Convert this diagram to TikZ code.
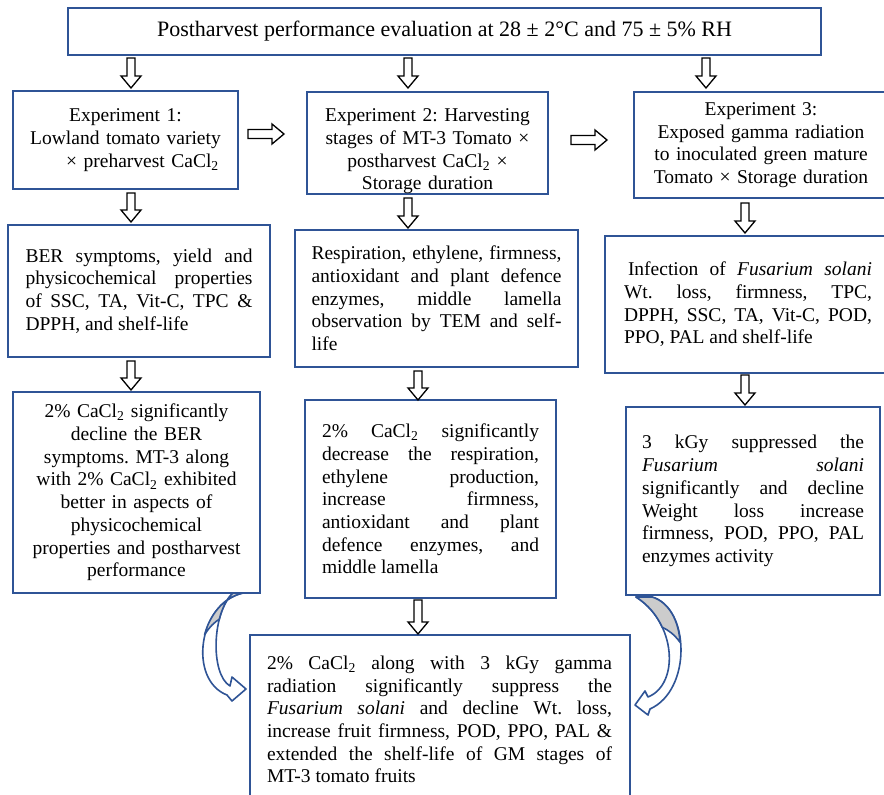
\documentclass[tikz,border=0pt]{standalone}
\usepackage{fontspec}
\setmainfont{Liberation Serif}
\frenchspacing
\definecolor{boxblue}{HTML}{2F5496}
\tikzset{
  box/.style={draw=boxblue, line width=2pt, fill=white, inner sep=0pt,
    font=\fontsize{19.5}{22.7}\selectfont, align=center,
    execute at begin node={\tolerance=10000\hbadness=10000}},
  jbox/.style={box, align=justify},
  blockarrow/.style={draw=black, fill=white, line width=1.3pt, line join=miter},
  pics/darr/.style={code={\draw[blockarrow] (-4,0) -- (4,0) -- (4,#1-12) -- (10,#1-12) -- (0,#1) -- (-10,#1-12) -- (-4,#1-12) -- cycle;}},
  pics/rarr/.style={code={\draw[blockarrow] (0,-4.5) -- (24,-4.5) -- (24,-10) -- (36,0) -- (24,10) -- (24,4.5) -- (0,4.5) -- cycle;}},
  curvearr/.style={draw=boxblue, line width=1.6pt, fill=white, line join=round},
  backface/.style={draw=boxblue, line width=1.6pt, fill=gray!40, line join=round}
}
\begin{document}
\begin{tikzpicture}[x=1pt,y=-1pt]
\useasboundingbox (0,0) rectangle (884,795);
\clip (0,0) rectangle (884,795);
\fill[white] (0,0) rectangle (884,795);

\node[box, minimum width=753, minimum height=47, font=\fontsize{22}{24}\selectfont] (eval) at (444.5,31.5)
  {Postharvest performance evaluation at 28 ± 2°C and 75 ± 5\% RH};

\node[box, minimum width=225, minimum height=98, text width=215] (exp1) at (125.5,140)
  {Experiment 1:\\ Lowland tomato variety\\ \hspace*{34pt}× preharvest CaCl\textsubscript{2}};
\node[box, minimum width=241, minimum height=102, text width=232] (exp2) at (427.5,143)
  {\rule{0pt}{30pt}Experiment 2: Harvesting\\ stages of MT-3 Tomato ×\\ postharvest CaCl\textsubscript{2} ×\\ Storage duration};
\node[box, minimum width=254, minimum height=106, text width=240] (exp3) at (761,145)
  {Experiment 3:\\ Exposed gamma radiation\\ to inoculated green mature\\ Tomato × Storage duration};

\node[jbox, minimum width=262, minimum height=132, text width=227] (ber) at (139,291)
  {BER symptoms, yield and\linebreak physicochemical properties\linebreak of SSC, TA, Vit-C, TPC \&\linebreak DPPH, and shelf-life};
\node[jbox, minimum width=283, minimum height=137, text width=250] (resp) at (436.5,298.5)
  {Respiration, ethylene, firmness,\linebreak antioxidant and plant defence\linebreak enzymes, middle lamella\linebreak observation by TEM and self-\linebreak life};
\node[jbox, minimum width=286, minimum height=137, text width=248] (infect) at (748,304.5)
  {\hspace*{4pt}Infection of \emph{Fusarium solani}\linebreak Wt. loss, firmness, TPC,\linebreak DPPH, SSC, TA, Vit-C, POD,\linebreak PPO, PAL and shelf-life};

\node[box, minimum width=247, minimum height=201, text width=235] (res1) at (136.5,492.5)
  {2\% CaCl\textsubscript{2} significantly\\ decline the BER\\ symptoms. MT-3 along\\ with 2\% CaCl\textsubscript{2} exhibited\\ better in aspects of\\ physicochemical\\ properties and postharvest\\ performance};
\node[jbox, minimum width=251, minimum height=198, text width=217] (res2) at (430.5,499)
  {2\% CaCl\textsubscript{2} significantly\linebreak decrease the respiration,\linebreak ethylene production,\linebreak increase firmness,\linebreak antioxidant and plant\linebreak defence enzymes, and\linebreak middle lamella};
\node[jbox, minimum width=254, minimum height=188, text width=222] (res3) at (753,501)
  {3 kGy suppressed the\linebreak \emph{Fusarium solani}\linebreak significantly and decline\linebreak Weight loss increase\linebreak firmness, POD, PPO, PAL\linebreak enzymes activity};

\node[jbox, minimum width=380, minimum height=169, text width=345] (final) at (439.5,719.5)
  {2\% CaCl\textsubscript{2} along with 3 kGy gamma\linebreak radiation significantly suppress the\linebreak \emph{Fusarium solani} and decline Wt. loss,\linebreak increase fruit firmness, POD, PPO, PAL \&\linebreak extended the shelf-life of GM stages of\linebreak MT-3 tomato fruits};

\pic at (131,58) {darr=30};
\pic at (408,58) {darr=30};
\pic at (706,58) {darr=30};
\pic at (248,134) {rarr};
\pic at (571,140) {rarr};
\pic at (131,193) {darr=29};
\pic at (408,198) {darr=30};
\pic at (745,203) {darr=30};
\pic at (131,361) {darr=29};
\pic at (418,371) {darr=29};
\pic at (745,375) {darr=30};
\pic at (418,600) {darr=34};

\draw[curvearr] (243,593) .. controls (198,603) and (188,680) .. (227,695) -- (232,701) -- (246,689) -- (232,677) -- (230,686) .. controls (210,674) and (212,612) .. (233,593) -- cycle;
\draw[backface] (243,593) .. controls (222.8,597.5) and (209.6,615.7) .. (204.6,634.7) .. controls (210,626) and (215,622) .. (219.3,619.2) .. controls (222.1,608.3) and (226.7,598.7) .. (233,593) -- cycle;
\draw[curvearr] (652,597) .. controls (690,608) and (692,690) .. (650,709) -- (648,715) -- (635,705) -- (645,691) -- (648,697) .. controls (680,684) and (676,622) .. (636,597) -- cycle;
\draw[backface] (652,597) .. controls (669.1,602) and (678.9,621.3) .. (680,642.2) .. controls (674,634) and (668,630) .. (662.2,627.2) .. controls (656.8,615.3) and (648,604.5) .. (636,597) -- cycle;
\end{tikzpicture}
\end{document}
